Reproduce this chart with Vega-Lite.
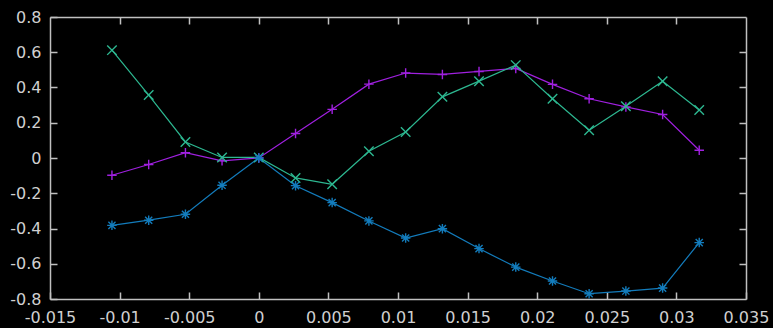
{
  "$schema": "https://vega.github.io/schema/vega-lite/v6.json",
  "width": 696,
  "height": 282,
  "autosize": {"type": "none"},
  "padding": {"left": 50, "top": 17, "right": 27, "bottom": 29},
  "background": "#000000",
  "config": {
    "view": {"stroke": null},
    "axis": {
      "domainColor": "#c0c0c0",
      "domainWidth": 1.5,
      "tickColor": "#c0c0c0",
      "tickWidth": 1.5,
      "tickSize": -7,
      "grid": false,
      "labelColor": "#d0d0d0",
      "labelFont": "DejaVu Sans",
      "labelFontSize": 16,
      "title": null,
      "labelOverlap": false,
      "labelFlush": false
    }
  },
  "data": {
    "values": [
      {"x": -0.01055, "y": -0.098, "s": "a"},
      {"x": -0.00791, "y": -0.037, "s": "a"},
      {"x": -0.00527, "y": 0.030, "s": "a"},
      {"x": -0.00264, "y": -0.016, "s": "a"},
      {"x": 0.0, "y": 0.0, "s": "a"},
      {"x": 0.00264, "y": 0.139, "s": "a"},
      {"x": 0.00527, "y": 0.276, "s": "a"},
      {"x": 0.00791, "y": 0.419, "s": "a"},
      {"x": 0.01055, "y": 0.482, "s": "a"},
      {"x": 0.01319, "y": 0.474, "s": "a"},
      {"x": 0.01582, "y": 0.491, "s": "a"},
      {"x": 0.01846, "y": 0.508, "s": "a"},
      {"x": 0.0211, "y": 0.418, "s": "a"},
      {"x": 0.02373, "y": 0.336, "s": "a"},
      {"x": 0.02637, "y": 0.290, "s": "a"},
      {"x": 0.02901, "y": 0.247, "s": "a"},
      {"x": 0.03164, "y": 0.044, "s": "a"},
      {"x": -0.01055, "y": 0.612, "s": "b"},
      {"x": -0.00791, "y": 0.357, "s": "b"},
      {"x": -0.00527, "y": 0.091, "s": "b"},
      {"x": -0.00264, "y": 0.003, "s": "b"},
      {"x": 0.0, "y": 0.003, "s": "b"},
      {"x": 0.00264, "y": -0.113, "s": "b"},
      {"x": 0.00527, "y": -0.149, "s": "b"},
      {"x": 0.00791, "y": 0.038, "s": "b"},
      {"x": 0.01055, "y": 0.148, "s": "b"},
      {"x": 0.01319, "y": 0.347, "s": "b"},
      {"x": 0.01582, "y": 0.436, "s": "b"},
      {"x": 0.01846, "y": 0.527, "s": "b"},
      {"x": 0.0211, "y": 0.336, "s": "b"},
      {"x": 0.02373, "y": 0.158, "s": "b"},
      {"x": 0.02637, "y": 0.294, "s": "b"},
      {"x": 0.02901, "y": 0.436, "s": "b"},
      {"x": 0.03164, "y": 0.272, "s": "b"},
      {"x": -0.01055, "y": -0.382, "s": "c"},
      {"x": -0.00791, "y": -0.353, "s": "c"},
      {"x": -0.00527, "y": -0.319, "s": "c"},
      {"x": -0.00264, "y": -0.155, "s": "c"},
      {"x": 0.0, "y": 0.0, "s": "c"},
      {"x": 0.00264, "y": -0.157, "s": "c"},
      {"x": 0.00527, "y": -0.253, "s": "c"},
      {"x": 0.00791, "y": -0.357, "s": "c"},
      {"x": 0.01055, "y": -0.454, "s": "c"},
      {"x": 0.01319, "y": -0.401, "s": "c"},
      {"x": 0.01582, "y": -0.514, "s": "c"},
      {"x": 0.01846, "y": -0.619, "s": "c"},
      {"x": 0.0211, "y": -0.698, "s": "c"},
      {"x": 0.02373, "y": -0.770, "s": "c"},
      {"x": 0.02637, "y": -0.755, "s": "c"},
      {"x": 0.02901, "y": -0.738, "s": "c"},
      {"x": 0.03164, "y": -0.480, "s": "c"}
    ]
  },
  "resolve": {"axis": {"x": "independent", "y": "independent"}},
  "layer": [
    {
      "mark": {"type": "line", "strokeWidth": 1.2},
      "encoding": {
        "x": {"field": "x", "type": "quantitative",
          "scale": {"domain": [-0.015, 0.035], "nice": false, "zero": false},
          "axis": {"orient": "bottom", "values": [-0.015, -0.01, -0.005, 0, 0.005, 0.01, 0.015, 0.02, 0.025, 0.03, 0.035], "labelExpr": "'' + datum.value", "labelPadding": 17}},
        "y": {"field": "y", "type": "quantitative",
          "scale": {"domain": [-0.8, 0.8], "nice": false, "zero": false},
          "axis": {"orient": "left", "values": [-0.8, -0.6, -0.4, -0.2, 0, 0.2, 0.4, 0.6, 0.8], "labelExpr": "'' + datum.value", "labelPadding": 16}},
        "color": {"field": "s", "type": "nominal", "legend": null,
          "scale": {"domain": ["a", "b", "c"], "range": ["#a020e0", "#2db891", "#137cbc"]}},
        "detail": {"field": "s"}
      }
    },
    {
      "mark": {"type": "point", "filled": false, "strokeWidth": 1.4, "opacity": 1, "size": 90},
      "encoding": {
        "x": {"field": "x", "type": "quantitative",
          "scale": {"domain": [-0.015, 0.035], "nice": false, "zero": false},
          "axis": {"orient": "top", "values": [-0.01, -0.005, 0, 0.005, 0.01, 0.015, 0.02, 0.025, 0.03], "labels": false}},
        "y": {"field": "y", "type": "quantitative",
          "scale": {"domain": [-0.8, 0.8], "nice": false, "zero": false},
          "axis": {"orient": "right", "values": [-0.6, -0.4, -0.2, 0, 0.2, 0.4, 0.6], "labels": false}},
        "color": {"field": "s", "type": "nominal", "legend": null,
          "scale": {"domain": ["a", "b", "c"], "range": ["#a020e0", "#2db891", "#137cbc"]}},
        "shape": {"field": "s", "type": "nominal", "legend": null,
          "scale": {"domain": ["a", "b", "c"], "range": ["M-1,0L1,0M0,-1L0,1", "M-1,-1L1,1M-1,1L1,-1", "M-1,0L1,0M0,-1L0,1M-0.75,-0.75L0.75,0.75M-0.75,0.75L0.75,-0.75"]}}
      }
    }
  ]
}
